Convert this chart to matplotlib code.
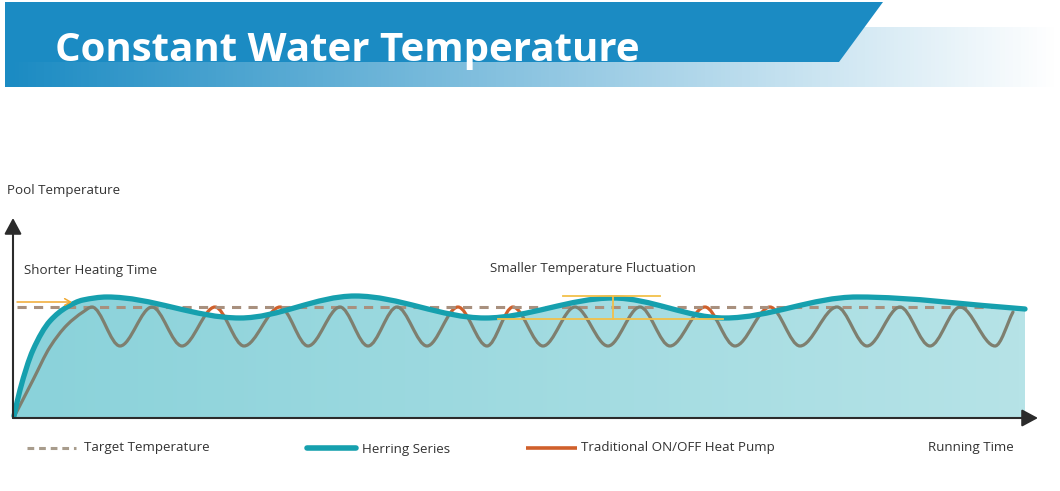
import numpy as np
import matplotlib
matplotlib.use("Agg")
import matplotlib.pyplot as plt
from matplotlib.path import Path
from matplotlib.patches import PathPatch, Polygon
from matplotlib.colors import LinearSegmentedColormap

plt.rcParams['font.family'] = ['Open Sans', 'DejaVu Sans']

# ---------------- data (schematic units: time, temperature) ----------------
title = "Constant Water Temperature"
y_label = "Pool Temperature"
x_label = "Running Time"
note_heating = "Shorter Heating Time"
note_fluct = "Smaller Temperature Fluctuation"
legend_labels = ["Target Temperature", "Herring Series", "Traditional ON/OFF Heat Pump"]

target_temp = 111
target_span = [3, 996]

herring_time = [0, 6, 19, 36, 53, 69, 93, 226, 341, 471, 599, 711, 843, 1011]
herring_temp = [2, 28, 68, 97, 111, 118, 121, 100, 122, 100, 120, 100, 121, 109]

onoff_time = [0, 19, 36, 53, 69, 78,
              106, 138, 168, 201, 230, 266, 294, 326, 354, 383, 413, 444,
              473, 499, 529, 561, 594, 626, 656, 691, 721, 756, 786, 823,
              853, 886, 916, 946, 981, 999]
onoff_temp = [1, 38, 71, 93, 106, 111,
              72, 111, 72, 111, 72, 111, 72, 111, 72, 111, 72, 111,
              72, 111, 72, 111, 72, 111, 72, 111, 72, 111, 72, 111,
              72, 111, 72, 111, 72, 106]

heating_arrow = [3, 58]        # time span of the "shorter heating time" arrow
heating_arrow_temp = 116
fluct_high, fluct_low = 122, 99
fluct_high_span = [549, 646]
fluct_low_span = [484, 709]
fluct_mark_time = 599

# ---------------- colours ----------------
C_BANNER = '#1b8bc3'
C_TEAL = '#16a0ae'
C_GREY = '#7e7f6f'
C_ORANGE = '#d0602b'
C_DASH = '#a8907e'
C_YELLOW = '#f2c04a'
C_AXIS = '#2b2b2b'
C_TEXT = '#333333'


def smooth_path(x, y):
    """Monotone cubic (Hermite) through the knots, as Bezier path pieces."""
    x = np.asarray(x, float)
    y = np.asarray(y, float)
    h = np.diff(x)
    d = np.diff(y) / h
    n = len(x)
    m = np.zeros(n)
    m[0], m[-1] = d[0], d[-1]
    for k in range(1, n - 1):
        if d[k - 1] * d[k] > 0:
            w1 = 2 * h[k] + h[k - 1]
            w2 = h[k] + 2 * h[k - 1]
            m[k] = (w1 + w2) / (w1 / d[k - 1] + w2 / d[k])
    verts = [(x[0], y[0])]
    codes = [Path.MOVETO]
    for k in range(n - 1):
        verts += [(x[k] + h[k] / 3, y[k] + m[k] * h[k] / 3),
                  (x[k + 1] - h[k] / 3, y[k + 1] - m[k + 1] * h[k] / 3),
                  (x[k + 1], y[k + 1])]
        codes += [Path.CURVE4] * 3
    return verts, codes


fig = plt.figure(figsize=(10.6, 4.91), dpi=100)

# ---------------- header banner (pixel space) ----------------
hdr = fig.add_axes([0, 0, 1, 1], zorder=0)
hdr.set_xlim(0, 1060)
hdr.set_ylim(491, 0)
hdr.axis('off')
grad_cmap = LinearSegmentedColormap.from_list('band', [C_BANNER, '#ffffff'])
hdr.imshow(np.linspace(0, 1, 256)[None, :], extent=(5, 1060, 87, 27),
           cmap=grad_cmap, aspect='auto', interpolation='bilinear')
hdr.add_patch(Polygon([(5, 2), (883, 2), (839, 62), (5, 62)], closed=True,
                      facecolor=C_BANNER, edgecolor='none'))
hdr.text(55, 61, title, color='white', fontsize=29, fontweight='bold',
         va='baseline', ha='left')

# ---------------- main schematic ----------------
ax = fig.add_axes([0, 0, 1, 1], zorder=1)
ax.set_xlim(-14, 1046)
ax.set_ylim(-73, 418)
ax.axis('off')

hv, hc = smooth_path(herring_time, herring_temp)
ov, oc = smooth_path(onoff_time, onoff_temp)
herring_path = Path(hv, hc)
onoff_path = Path(ov, oc)

fill_path = Path(hv + [(herring_time[-1], 0), (herring_time[0], 0), (herring_time[0], 0)],
                 hc + [Path.LINETO, Path.LINETO, Path.CLOSEPOLY])
fill_patch = PathPatch(fill_path, facecolor='none', edgecolor='none',
                       transform=ax.transData)
ax.add_patch(fill_patch)

# traditional ON/OFF curve (orange where it rises above the herring curve)
ax.add_patch(PathPatch(onoff_path, fill=False, edgecolor=C_ORANGE, lw=2.3,
                       zorder=1, capstyle='round'))

fill_cmap = LinearSegmentedColormap.from_list('fill', ['#8ad2da', '#b6e3e7'])
img = ax.imshow(np.linspace(0, 1, 256)[None, :],
                extent=(herring_time[0], herring_time[-1], 0, 130),
                cmap=fill_cmap, aspect='auto', zorder=2, interpolation='bilinear')
img.set_clip_path(fill_patch)

# target temperature
ax.plot(target_span, [target_temp, target_temp], color=C_DASH, lw=2.2,
        dashes=(3.0, 2.4), zorder=3, solid_capstyle='butt')

grey = PathPatch(onoff_path, fill=False, edgecolor=C_GREY, lw=2.3, zorder=4,
                 capstyle='round')
ax.add_patch(grey)
grey.set_clip_path(fill_patch)

ax.add_patch(PathPatch(herring_path, fill=False, edgecolor=C_TEAL, lw=3.8,
                       zorder=5, capstyle='round'))

# fluctuation marker
ax.plot(fluct_high_span, [fluct_high, fluct_high], color=C_YELLOW, lw=1.3, zorder=6)
ax.plot(fluct_low_span, [fluct_low, fluct_low], color=C_YELLOW, lw=1.3, zorder=6)
ax.plot([fluct_mark_time, fluct_mark_time], [fluct_low, fluct_high], color=C_YELLOW,
        lw=1.3, zorder=6)

# heating time arrow
ax.annotate('', xy=(heating_arrow[1], heating_arrow_temp),
            xytext=(heating_arrow[0], heating_arrow_temp),
            arrowprops=dict(arrowstyle='->,head_length=0.35,head_width=0.2',
                            color='#f0a830', lw=1.1, shrinkA=0, shrinkB=0,
                            mutation_scale=12), zorder=6)

# axes arrows
ax.annotate('', xy=(-1, 200), xytext=(-1, 0),
            arrowprops=dict(arrowstyle='-|>,head_length=0.65,head_width=0.35',
                            color=C_AXIS, lw=1.5, shrinkA=0, shrinkB=0,
                            mutation_scale=15), zorder=7)
ax.annotate('', xy=(1024, 0), xytext=(-1, 0),
            arrowprops=dict(arrowstyle='-|>,head_length=0.65,head_width=0.35',
                            color=C_AXIS, lw=1.5, shrinkA=0, shrinkB=0,
                            mutation_scale=15), zorder=7)

# texts
fs = 9.6
ax.text(-7, 228, y_label, fontsize=fs, color=C_TEXT, ha='left', va='center')
ax.text(10, 148, note_heating, fontsize=fs, color=C_TEXT, ha='left', va='center')
ax.text(476, 150, note_fluct, fontsize=fs, color=C_TEXT, ha='left', va='center')

# legend row
leg_y = -30
ax.plot([13, 62], [leg_y, leg_y], color='#a89c8c', lw=2.2, dashes=(2.2, 1.6))
ax.text(70, leg_y, legend_labels[0], fontsize=fs, color=C_TEXT, ha='left', va='center')
ax.plot([293, 342], [leg_y, leg_y], color=C_TEAL, lw=4.0, solid_capstyle='round')
ax.text(348, leg_y - 2, legend_labels[1], fontsize=fs, color=C_TEXT, ha='left', va='center')
ax.plot([512, 563], [leg_y, leg_y], color=C_ORANGE, lw=2.6, solid_capstyle='butt')
ax.text(567, leg_y, legend_labels[2], fontsize=fs, color=C_TEXT, ha='left', va='center')
ax.text(914, leg_y, x_label, fontsize=fs, color=C_TEXT, ha='left', va='center')

fig.savefig('out.png', dpi=100)
